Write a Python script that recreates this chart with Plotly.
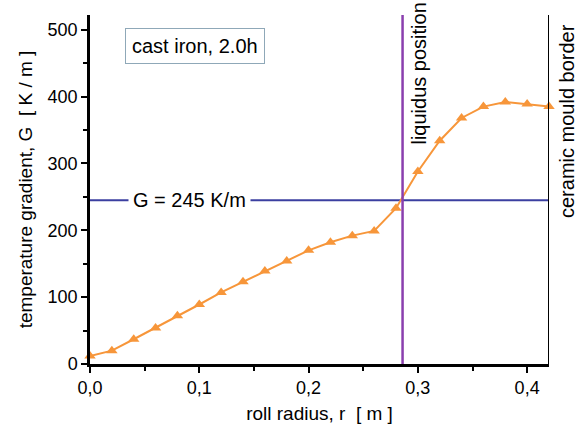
import plotly.graph_objects as go

r_values = [0.00, 0.02, 0.04, 0.06, 0.08, 0.10, 0.12, 0.14, 0.16, 0.18, 0.20,
            0.22, 0.24, 0.26, 0.28, 0.30, 0.32, 0.34, 0.36, 0.38, 0.40, 0.42]
G_values = [12, 20, 37, 54, 72, 89, 107, 123, 139, 154, 170,
            182, 192, 199, 233, 288, 334, 368, 385, 392, 389, 385]
x_ticks = [0.0, 0.1, 0.2, 0.3, 0.4]
y_ticks = [0, 100, 200, 300, 400, 500]
G_ref = 245
r_liquidus = 0.286
r_mould = 0.42

FONT = "Liberation Sans, Arial, sans-serif"
TXT = 19
ANN = 20

fig = go.Figure()
fig.add_trace(go.Scatter(
    x=r_values, y=G_values, mode="lines+markers",
    line=dict(color="#F7963A", width=2),
    marker=dict(symbol="triangle-up", size=10, color="#F7963A"),
    cliponaxis=False, showlegend=False))

# reference lines
fig.add_shape(type="line", xref="x", yref="y", x0=0, x1=r_mould, y0=G_ref, y1=G_ref,
              line=dict(color="#3B3FA0", width=2), layer="below")
fig.add_shape(type="line", xref="x", yref="paper", x0=r_liquidus, x1=r_liquidus, y0=0, y1=1,
              line=dict(color="#8A3FAE", width=2.5))
fig.add_shape(type="line", xref="x", yref="paper", x0=r_mould, x1=r_mould, y0=0, y1=1,
              line=dict(color="black", width=2))

fig.add_annotation(x=0.0913, y=G_ref, xref="x", yref="y", text="G = 245 K/m",
                   showarrow=False, bgcolor="white", borderpad=4,
                   font=dict(family=FONT, size=ANN, color="black"))
fig.add_annotation(x=0.0959, y=475, xref="x", yref="y", text="cast iron, 2.0h",
                   showarrow=False, bgcolor="white", bordercolor="#8FA8B8", borderwidth=1,
                   borderpad=6, font=dict(family=FONT, size=ANN, color="black"))
fig.add_annotation(x=r_liquidus, y=1.0, xref="x", yref="paper", text="liquidus position",
                   textangle=-90, showarrow=False, xanchor="left", yanchor="top",
                   xshift=3, yshift=14, font=dict(family=FONT, size=ANN, color="black"))
fig.add_annotation(x=r_mould, y=1.0, xref="x", yref="paper", text="ceramic mould border",
                   textangle=-90, showarrow=False, xanchor="left", yanchor="top",
                   xshift=5, yshift=-7, font=dict(family=FONT, size=ANN, color="black"))

fig.update_layout(
    width=578, height=432,
    margin=dict(l=90, r=29, t=15, b=68),
    plot_bgcolor="white", paper_bgcolor="white",
    separators=",.",
    font=dict(family=FONT, size=TXT, color="black"),
    xaxis=dict(range=[0, 0.42], tickvals=x_ticks, tickformat=".1f", automargin=False,
               showgrid=False, zeroline=False, showline=True, linecolor="black", linewidth=2.5,
               ticks="outside", ticklen=6, tickwidth=2, tickcolor="black",
               minor=dict(dtick=0.05, tick0=0, ticks="outside", ticklen=4, tickwidth=2, tickcolor="black"),
               title=dict(text="roll radius, r  [ m ]", standoff=10, font=dict(size=TXT)),
               tickfont=dict(size=18)),
    yaxis=dict(range=[0, 522], tickvals=y_ticks, automargin=False,
               showgrid=False, zeroline=False, showline=True, linecolor="black", linewidth=2.5,
               ticks="outside", ticklen=6, tickwidth=2, tickcolor="black",
               minor=dict(dtick=50, tick0=0, ticks="outside", ticklen=4, tickwidth=2, tickcolor="black"),
               title=dict(text="temperature gradient, G  [ K / m ]", standoff=10, font=dict(size=TXT)),
               tickfont=dict(size=18)),
)

# remove the browser's default 8px page margin so the figure fills the window exactly
fig.write_html("out.html", config={"displayModeBar": False},
               post_script="document.body.style.margin='0';")
